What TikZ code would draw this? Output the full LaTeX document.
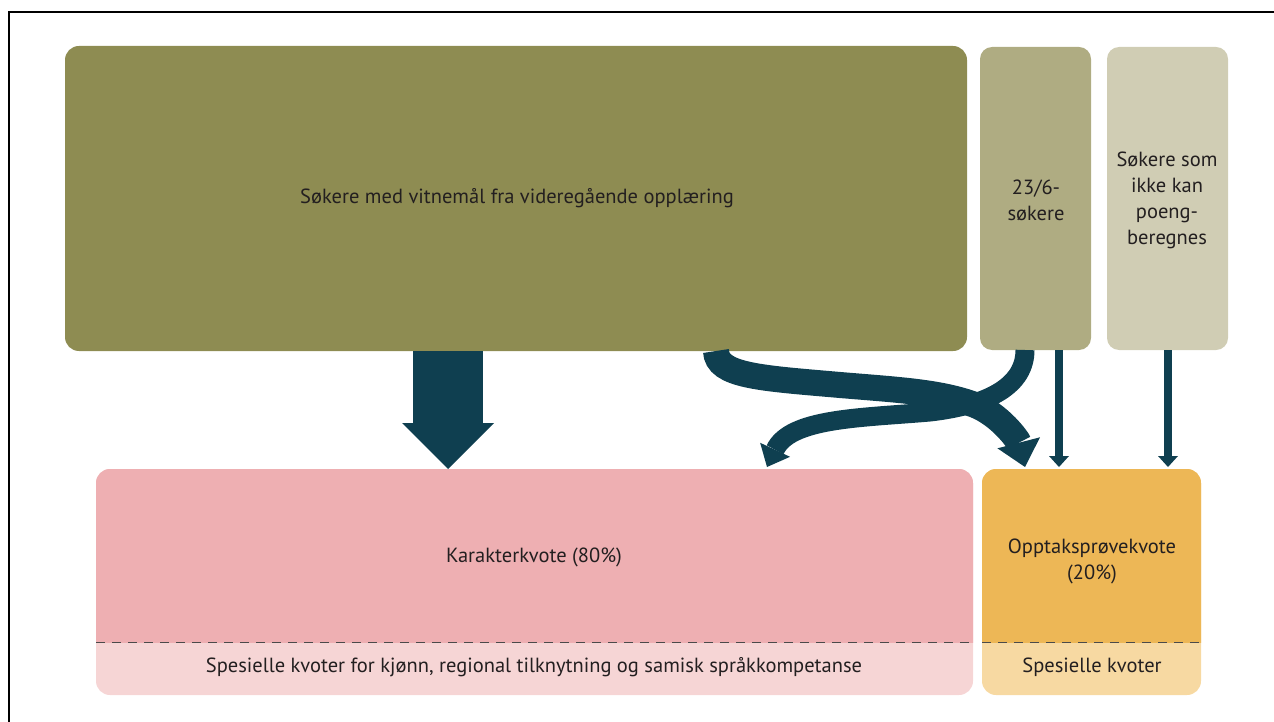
\documentclass[tikz,border=0pt]{standalone}
\usepackage{fontspec}
\setmainfont{PT Sans}
\usetikzlibrary{arrows.meta,calc}
\definecolor{cOlive}{HTML}{8E8C52}
\definecolor{cOliveB}{HTML}{AFAC82}
\definecolor{cOliveC}{HTML}{D0CDB4}
\definecolor{cPink}{HTML}{EEAFB2}
\definecolor{cPinkL}{HTML}{F6D5D5}
\definecolor{cOrange}{HTML}{EDB756}
\definecolor{cOrangeL}{HTML}{F7D9A2}
\definecolor{cArrow}{HTML}{0F3F50}
\definecolor{cText}{HTML}{231F20}
\definecolor{cDash}{HTML}{4A4A4A}
\tikzset{
  box/.style={draw=none, inner sep=0pt, outer sep=0pt, anchor=north west, rounded corners=#1},
  lbl/.style={text=cText, font=\fontsize{20.5}{26}\selectfont, align=center, inner sep=0pt},
  flow/.style={draw=cArrow, line width=#1},
  dashline/.style={draw=cDash, line width=1pt, dash pattern=on 9pt off 7pt},
  frameline/.style={draw=black, line width=2pt}
}
\begin{document}
\begin{tikzpicture}[x=1pt,y=-1pt]
\useasboundingbox (0,0) rectangle (1274,722);
\draw[frameline] (8.5,722) -- (8.5,12.5) -- (1274,12.5);

% top boxes
\node[box=14pt, fill=cOlive, minimum width=902, minimum height=305] (olive) at (65,46) {};
\node[box=12pt, fill=cOliveB, minimum width=111, minimum height=303] (b236) at (980,47) {};
\node[box=12pt, fill=cOliveC, minimum width=121, minimum height=303] (ikke) at (1107,47) {};

% bottom boxes
\node[box=14pt, fill=cPinkL, minimum width=877, minimum height=226] (kar) at (96,469) {};
\begin{scope}
  \clip ($(kar.north west)+(-1,-1)$) rectangle ($(kar.south east)+(1,-53)$);
  \fill[cPink, rounded corners=14pt] (kar.north west) rectangle (kar.south east);
\end{scope}
\node[box=14pt, fill=cOrangeL, minimum width=219, minimum height=226] (opp) at (982,469) {};
\begin{scope}
  \clip ($(opp.north west)+(-1,-1)$) rectangle ($(opp.south east)+(1,-53)$);
  \fill[cOrange, rounded corners=14pt] (opp.north west) rectangle (opp.south east);
\end{scope}
\draw[dashline] ($(kar.south west)+(0,-53)$) -- ($(kar.south east)+(0,-53)$);
\draw[dashline] ($(opp.south west)+(0,-53)$) -- ($(opp.south east)+(0,-53)$);

% labels
\node[lbl] (t1) at (517,198) {Søkere med vitnemål fra videregående opplæring};
\node[lbl] (t2) at (1036,200) {23/6-\\søkere};
\node[lbl] (t3) at (1167,200) {Søkere som\\ikke kan\\poeng-\\beregnes};
\node[lbl] (t4) at (534,557) {Karakterkvote (80\%)};
\node[lbl] (t5) at (1092,561) {Opptaksprøvekvote\\(20\%)};
\node[lbl] (t6) at (534,667) {Spesielle kvoter for kjønn, regional tilknytning og samisk språkkompetanse};
\node[lbl] (t7) at (1092,667) {Spesielle kvoter};

% connector endpoints
\coordinate (a1s) at (olive.south -| 448,0);
\coordinate (a1e) at (kar.north -| 448,0);
\coordinate (c1s) at (olive.south -| 716,0);
\coordinate (c1e) at (1025,467);
\coordinate (c2s) at (b236.south -| 1025,0);
\coordinate (c2e) at (767,467);
\coordinate (d1s) at (b236.south -| 1059,0);
\coordinate (d1e) at (1059,467);
\coordinate (d2s) at (ikke.south -| 1168,0);
\coordinate (d2e) at (1168,467);

% arrows
\draw[flow=70pt, -{Triangle[width=92pt,length=46pt,line width=0pt]}] (a1s) -- (a1e);
\draw[flow=26pt, -{Triangle[width=44pt,length=25pt,line width=0pt]}]
  (c1s) .. controls (717,376) and (760,378) .. (840,385)
        .. controls (900,390) and (940,392) .. (975,405)
        .. controls (1000,415) and (1018,440) .. (c1e);
\draw[flow=19pt, -{Triangle[width=33pt,length=19pt,line width=0pt]}]
  (c2s) .. controls (1025,385) and (990,405) .. (930,412)
        .. controls (860,418) and (790,418) .. (c2e);
\draw[flow=8pt, -{Triangle[width=20pt,length=11pt,line width=0pt]}] (d1s) -- (d1e);
\draw[flow=8pt, -{Triangle[width=20pt,length=11pt,line width=0pt]}] (d2s) -- (d2e);
\end{tikzpicture}
\end{document}
